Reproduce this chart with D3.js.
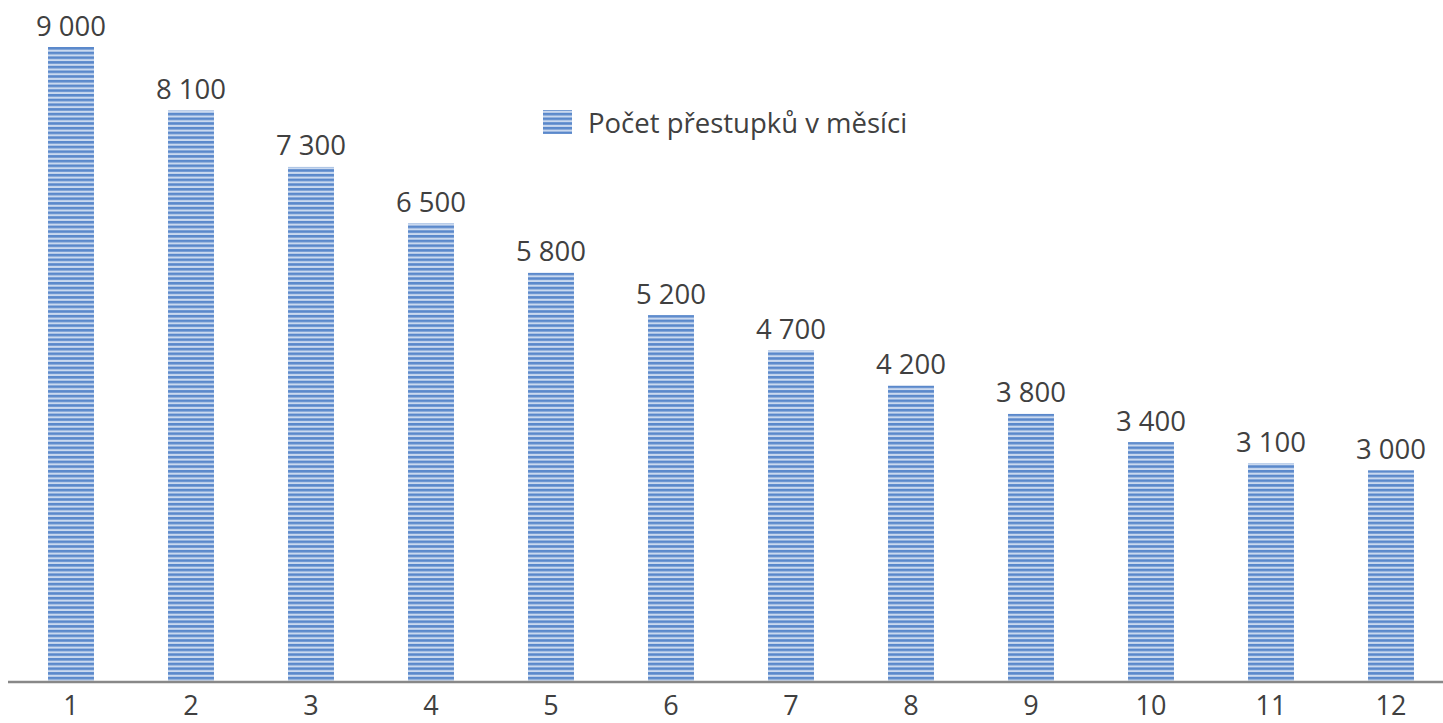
<!DOCTYPE html>
<html><head><meta charset="utf-8">
<script src="https://cdn.jsdelivr.net/npm/d3@7"></script>
<style>body{margin:0;background:#fff}svg{display:block}</style>
</head><body>
<script>
const categories = ["1","2","3","4","5","6","7","8","9","10","11","12"];
const values = [9000,8100,7300,6500,5800,5200,4700,4200,3800,3400,3100,3000];
const seriesName = "Počet přestupků v měsíci";

const W = 1443, H = 723;
const svg = d3.select("body").append("svg").attr("width", W).attr("height", H);
const defs = svg.append("defs");
const pat = defs.append("pattern").attr("id","stripes").attr("patternUnits","userSpaceOnUse")
  .attr("width", 10).attr("height", 4.7);
pat.append("rect").attr("width",10).attr("height",4.7).attr("fill","#cad9ef");
pat.append("rect").attr("y",0).attr("width",10).attr("height",2.6).attr("fill","#5a88cb");

const x = d3.scaleBand().domain(categories).range([11, 1451]).paddingInner(0.617).paddingOuter(0.3085);
const y = d3.scaleLinear().domain([0, 9000]).range([682, 47]);
const font = "'Open Sans', sans-serif";
const fs = 27.5;

svg.selectAll("rect.bar").data(values).join("rect").attr("class","bar")
  .attr("x",(d,i)=>x(categories[i])).attr("width",x.bandwidth())
  .attr("y",d=>y(d)).attr("height",d=>y(0)-y(d)).attr("fill","url(#stripes)");

const fmt = d => d3.format(",")(d).replace(/,/g, " ");
svg.selectAll("text.val").data(values).join("text").attr("class","val")
  .attr("x",(d,i)=>x(categories[i])+x.bandwidth()/2).attr("y",d=>y(d)-11.5)
  .attr("text-anchor","middle").attr("font-family",font).attr("font-size",fs).attr("fill","#404040")
  .text(fmt);

const xAxis = svg.append("g").attr("transform",`translate(0,${y(0)})`)
  .call(d3.axisBottom(x).tickSize(0).tickPadding(0));
xAxis.select(".domain").attr("d","M8,0H1443").attr("stroke","#888").attr("stroke-width",2.5);
xAxis.selectAll("text").attr("font-family",font).attr("font-size",27).attr("fill","#404040")
  .attr("y",33).attr("dy",0);

const lg = svg.append("g");
lg.append("rect").attr("x",543).attr("y",110).attr("width",29).attr("height",24).attr("fill","url(#stripes)");
lg.append("text").attr("x",588).attr("y",133).attr("font-family",font).attr("font-size",fs).attr("fill","#404040").text(seriesName);
</script>
</body></html>
